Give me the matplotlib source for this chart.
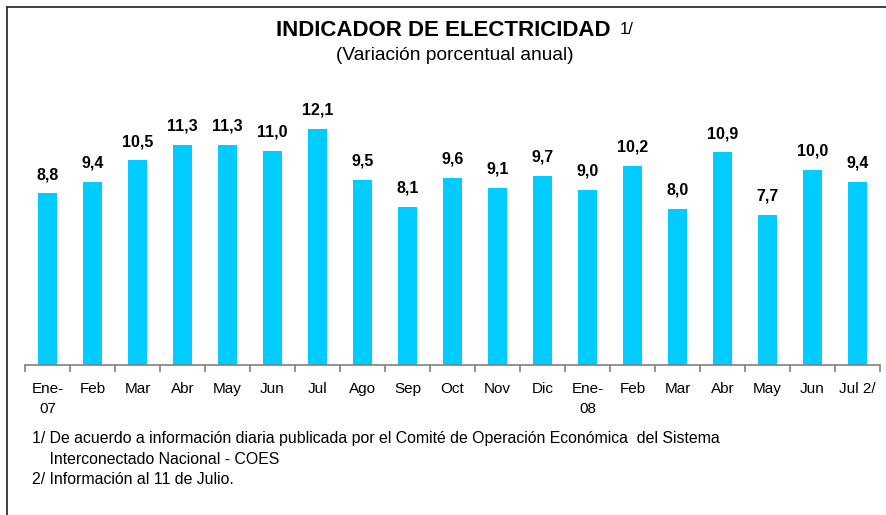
import matplotlib
matplotlib.use("Agg")
import matplotlib.pyplot as plt
from matplotlib.lines import Line2D

categories = ["Ene-\n07", "Feb", "Mar", "Abr", "May", "Jun", "Jul", "Ago", "Sep",
              "Oct", "Nov", "Dic", "Ene-\n08", "Feb", "Mar", "Abr", "May", "Jun", "Jul 2/"]
values = [8.8, 9.4, 10.5, 11.3, 11.3, 11.0, 12.1, 9.5, 8.1,
          9.6, 9.1, 9.7, 9.0, 10.2, 8.0, 10.9, 7.7, 10.0, 9.4]
value_labels = ["8,8", "9,4", "10,5", "11,3", "11,3", "11,0", "12,1", "9,5", "8,1",
                "9,6", "9,1", "9,7", "9,0", "10,2", "8,0", "10,9", "7,7", "10,0", "9,4"]
title = "INDICADOR DE ELECTRICIDAD"
title_note = "1/"
subtitle = "(Variación porcentual anual)"
footnotes = ["1/ De acuerdo a información diaria publicada por el Comité de Operación Económica  del Sistema",
             "    Interconectado Nacional - COES",
             "2/ Información al 11 de Julio."]

W, H = 887, 515
plt.rcParams['font.family'] = ['Liberation Sans', 'DejaVu Sans']
fig = plt.figure(figsize=(W / 100, H / 100), dpi=100)

def fx(px):
    return px / W

def fy(py):
    return 1 - py / H

ax_left, ax_right, ax_base, ax_top = 25, 880, 365, 100
ax = fig.add_axes([fx(ax_left), fy(ax_base), (ax_right - ax_left) / W, (ax_base - ax_top) / H])
x = list(range(len(categories)))
ax.bar(x, values, width=0.44, color="#00CCFF", zorder=2)
ax.set_xlim(-0.5, len(categories) - 0.5)
ax.set_ylim(0, (ax_base - ax_top) / 19.5)
for xi, v, lab in zip(x, values, value_labels):
    ax.annotate(lab, (xi, v), xytext=(0, 8), textcoords="offset points",
                ha="center", va="bottom", fontsize=11.5, fontweight="bold")
for s in ["top", "right", "left"]:
    ax.spines[s].set_visible(False)
ax.spines["bottom"].set_color("#808080")
ax.spines["bottom"].set_linewidth(1.2)
ax.set_yticks([])
ax.set_xticks(x)
ax.set_xticklabels(categories, fontsize=11, linespacing=1.55)
ax.tick_params(axis="x", which="major", length=0, pad=12)
ax.set_xticks([i - 0.5 for i in range(len(categories) + 1)], minor=True)
ax.tick_params(axis="x", which="minor", length=5, color="#808080", width=1.2)

fig.text(fx(443.5), fy(31), title, ha="center", va="center", fontsize=16, fontweight="bold")
fig.text(fx(620), fy(30), title_note, ha="left", va="center", fontsize=12)
fig.text(fx(455), fy(55), subtitle, ha="center", va="center", fontsize=13.8)

for i, t in enumerate(footnotes):
    fig.text(fx(32), fy(438 + 21 * i), t, ha="left", va="center", fontsize=11.4)

fig.add_artist(Line2D([fx(7), fx(7)], [fy(7), 0], transform=fig.transFigure, color="#222222", lw=1.2))
fig.add_artist(Line2D([fx(7), 1], [fy(7), fy(7)], transform=fig.transFigure, color="#222222", lw=1.2))

fig.savefig("out.png", dpi=100)
